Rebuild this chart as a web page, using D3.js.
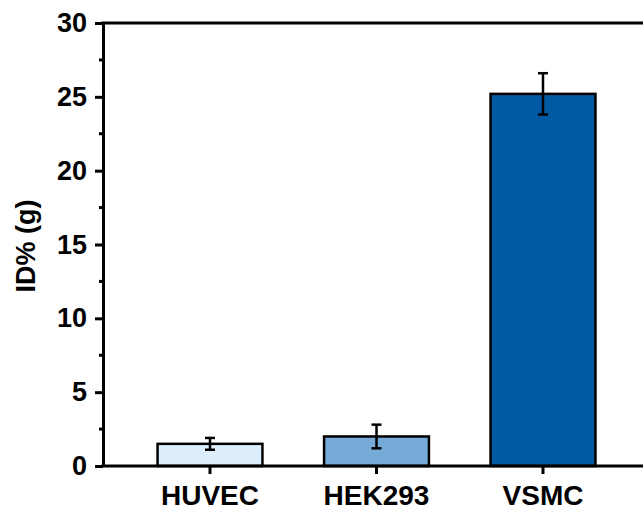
<!DOCTYPE html>
<html><head><meta charset="utf-8">
<script src="https://cdn.jsdelivr.net/npm/d3@7"></script>
<style>body{margin:0;background:#fff}svg{display:block}</style>
</head><body><svg id="c" width="643" height="510"></svg>
<script>
const categories = ["HUVEC", "HEK293", "VSMC"];
const values = [1.5, 2.0, 25.2];
const errors = [0.4, 0.8, 1.4];
const colors = ["#ddeefc", "#75abd6", "#005aa3"];
const yTicks = [0, 5, 10, 15, 20, 25, 30];
const yMinorTicks = [2.5, 7.5, 12.5, 17.5, 22.5, 27.5];

const svg = d3.select("#c");
const font = "Arial, 'Liberation Sans', sans-serif";
const y = d3.scaleLinear().domain([0, 30]).range([466, 23]);
const x = d3.scaleBand().domain(categories).range([126.75, 626.25]).paddingInner(0.37).paddingOuter(0.185);

// bars
svg.selectAll("rect.bar").data(values).join("rect")
  .attr("x", (d, i) => x(categories[i]))
  .attr("y", d => y(d))
  .attr("width", x.bandwidth())
  .attr("height", d => y(0) - y(d))
  .attr("fill", (d, i) => colors[i])
  .attr("stroke", "#000").attr("stroke-width", 2.5);

// error bars
const eg = svg.append("g").attr("stroke", "#000").attr("stroke-width", 2.5);
values.forEach((v, i) => {
  const cx = x(categories[i]) + x.bandwidth() / 2;
  eg.append("line").attr("x1", cx).attr("x2", cx).attr("y1", y(v + errors[i])).attr("y2", y(v - errors[i]));
  [v + errors[i], v - errors[i]].forEach(e => {
    eg.append("line").attr("x1", cx - 5).attr("x2", cx + 5).attr("y1", y(e)).attr("y2", y(e));
  });
});

// y axis
const ya = svg.append("g").attr("transform", "translate(103,0)")
  .call(d3.axisLeft(y).tickValues(yTicks).tickSize(8).tickPadding(8).tickSizeOuter(0));
ya.select(".domain").attr("stroke-width", 3);
ya.selectAll(".tick line").attr("stroke-width", 3);
ya.selectAll(".tick text").attr("font-family", font).attr("font-weight", "bold").attr("font-size", 27).attr("fill", "#000");
svg.append("g").selectAll("line").data(yMinorTicks).join("line")
  .attr("x1", 99).attr("x2", 103).attr("y1", d => y(d)).attr("y2", d => y(d))
  .attr("stroke", "#000").attr("stroke-width", 3);

// top line
svg.append("line").attr("x1", 101.5).attr("x2", 643).attr("y1", y(30)).attr("y2", y(30))
  .attr("stroke", "#000").attr("stroke-width", 3);

// x axis
const xa = svg.append("g").attr("transform", "translate(0,466)")
  .call(d3.axisBottom(x).tickSize(8).tickPadding(11).tickSizeOuter(0));
xa.select(".domain").attr("d", "M101.5,0H643").attr("stroke-width", 3);
xa.selectAll(".tick line").attr("stroke-width", 3);
xa.selectAll(".tick text").attr("font-family", font).attr("font-weight", "bold").attr("font-size", 28).attr("fill", "#000");

// y label
svg.append("text").attr("transform", "translate(35,246) rotate(-90)")
  .attr("text-anchor", "middle").attr("font-family", font).attr("font-weight", "bold")
  .attr("font-size", 27).text("ID% (g)");
</script></body></html>
